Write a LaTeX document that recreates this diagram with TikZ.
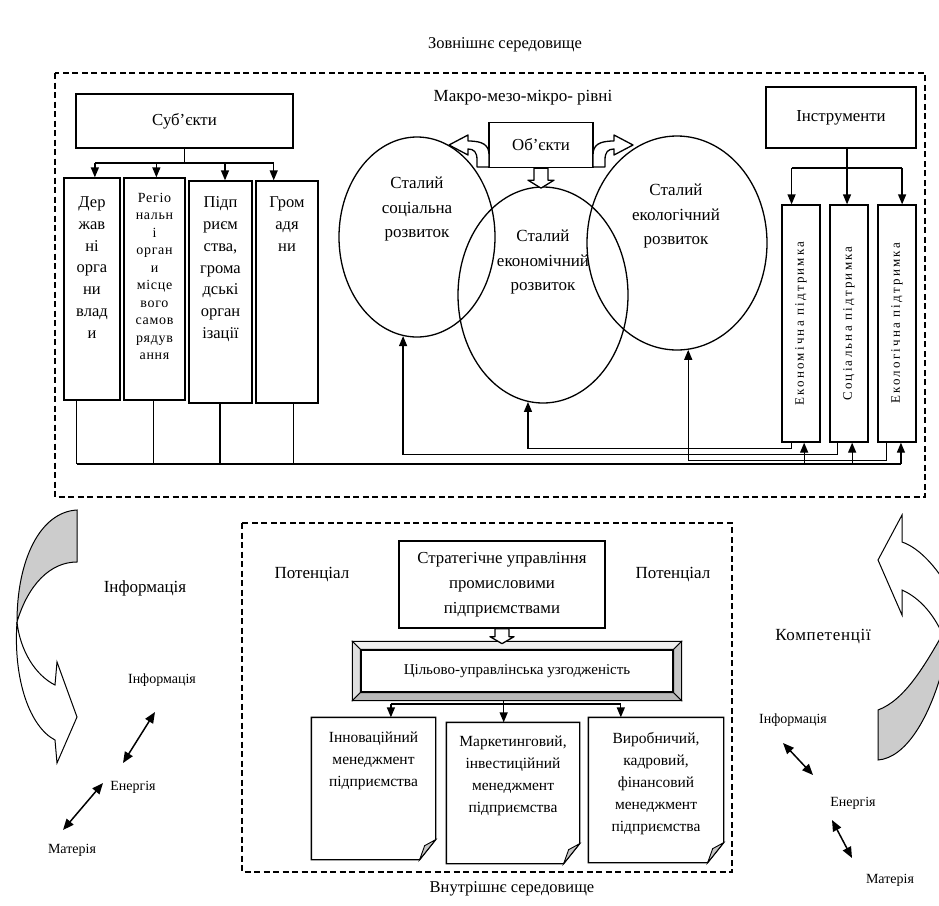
\documentclass[tikz,border=0pt]{standalone}
\usepackage{fontspec}
\setmainfont{Liberation Serif}
\usetikzlibrary{arrows.meta,shapes.geometric,calc,positioning}

\begin{document}
\begin{tikzpicture}[
    x=1pt, y=-1pt,
    line width=1.3pt,
    lbl/.style={font=\fontsize{17}{24.5}\selectfont, align=center, inner sep=0pt},
    slbl/.style={font=\fontsize{14}{16}\selectfont, inner sep=0pt},
    box/.style={rectangle, draw, fill=white, line width=1.3pt, font=\fontsize{16.8}{25}\selectfont, align=center, inner sep=0pt},
    colbox/.style={rectangle, draw, fill=white, line width=1.3pt, inner sep=0pt, font=\fontsize{16.5}{21.7}\selectfont},
    ibox/.style={rectangle, draw, fill=white, line width=1.3pt, minimum width=38, minimum height=237, inner sep=0pt, font=\fontsize{13}{14}\selectfont},
    circ/.style={ellipse, draw, line width=1.3pt},
    pagebox/.style={inner sep=0pt, font=\fontsize{15.5}{22}\selectfont},
    env/.style={draw, dash pattern=on 6pt off 3.5pt, line width=1.3pt},
    arr/.style={-{Triangle[length=10pt,width=8pt]}, line width=1.3pt},
    dbl/.style={{Triangle[length=11pt,width=9pt]}-{Triangle[length=11pt,width=9pt]}, line width=1.5pt},
    hollow/.style={draw, fill=white, line width=1.3pt, line join=round}
]
\useasboundingbox (0,0) rectangle (939,905);

% Outer environment
\node[lbl, font=\fontsize{16.5}{20}\selectfont] (outer) at (505,45) {Зовнішнє середовище};
\draw[env] (55,73) rectangle (925,497);

% Subjects
\node[box, minimum width=217, minimum height=54] (subj) at (184.5,121) {Суб’єкти};
\node[colbox] (d1) at (92,289) {\parbox[c][222pt][t]{56pt}{\centering\vspace*{19pt}Дер\\жав\\ні\\орга\\ни\\влад\\и}};
\node[colbox, font=\fontsize{14}{17.5}\selectfont\addfontfeatures{LetterSpace=5}] (d2) at (154.5,289) {\parbox[c][222pt][t]{61pt}{\centering\vspace*{15pt}Регіо\\нальн\\і\\орган\\и\\місце\\вого\\самов\\рядув\\ання}};
\node[colbox] (d3) at (220.5,292) {\parbox[c][222pt][t]{63pt}{\centering\vspace*{16pt}Підп\\риєм\\ства,\\грома\\дські\\орган\\ізації}};
\node[colbox] (d4) at (287,292) {\parbox[c][222pt][t]{62pt}{\centering\vspace*{16pt}Гром\\адя\\ни}};

\coordinate (sbus) at (184.5,163);
\coordinate (a1) at ($(d1.north west)!0.55!(d1.north east)$);
\coordinate (a2) at ($(d2.north west)!0.53!(d2.north east)$);
\coordinate (a3) at ($(d3.north west)!0.57!(d3.north east)$);
\coordinate (a4) at ($(d4.north west)!0.29!(d4.north east)$);
\draw (subj.south) -- (sbus);
\draw (a1 |- sbus) -- (a4 |- sbus);
\foreach \n in {1,...,4}
    \draw[arr] (a\n |- sbus) -- (a\n);

% Objects and circles
\node[lbl] (levels) at (523,98) {Макро-мезо-мікро- рівні};
\node[circ, minimum width=156, minimum height=200] (soc) at (417,237) {};
\node[circ, minimum width=170, minimum height=216] (eco) at (543,295) {};
\node[circ, minimum width=180, minimum height=214] (ecol) at (677,243) {};
\node[lbl] (soct) at (417,209) {Сталий\\соціальна\\розвиток};
\node[lbl] (ecot) at (543,262) {Сталий\\економічний\\розвиток};
\node[lbl] (ecolt) at (676,216) {Сталий\\екологічний\\розвиток};
\node[box, minimum width=104, minimum height=45] (obj) at (541,145) {Об’єкти};

\draw[hollow] ($(obj.south)+(-7,0)$) -- ++(0,12) -- ++(-6,0) -- ($(obj.south)+(0,20)$)
    -- ($(obj.south)+(13,12)$) -- ++(-6,0) -- ++(0,-12) -- cycle;
\draw[hollow] (489,167) -- (489,155) .. controls (489,145) and (483,141) .. (468,141)
    -- (468,135) -- (449,145) -- (468,155) -- (468,149) .. controls (474,149) and (477,152) .. (477,160)
    -- (477,167) -- cycle;
\draw[hollow] (593,167) -- (593,155) .. controls (593,145) and (599,141) .. (614,141)
    -- (614,135) -- (633,145) -- (614,155) -- (614,149) .. controls (608,149) and (605,152) .. (605,160)
    -- (605,167) -- cycle;

% Instruments
\node[box, minimum width=150, minimum height=61] (ins) at (841,117.5) {Інструменти};
\node[ibox] (i1) at (801,323.5) {\rotatebox{90}{\addfontfeatures{LetterSpace=17}Економічна підтримка}};
\node[ibox] (i2) at (849,323.5) {\rotatebox{90}{\addfontfeatures{LetterSpace=17}Соціальна підтримка}};
\node[ibox] (i3) at (897,323.5) {\rotatebox{90}{\addfontfeatures{LetterSpace=17}Екологічна підтримка}};

\coordinate (ibus) at (841,168);
\coordinate (t1) at ($(i1.north west)!0.26!(i1.north east)$);
\coordinate (t2) at ($(i2.north west)!0.45!(i2.north east)$);
\coordinate (t3) at ($(i3.north west)!0.63!(i3.north east)$);
\draw (t1 |- ibus) -- (t3 |- ibus);
\draw[arr] (ins.south -| t2) -- (t2);
\draw[arr] (t1 |- ibus) -- (t1);
\draw[arr] (t3 |- ibus) -- (t3);

% Feedback from instruments
\coordinate (o1) at ($(i1.south west)!0.26!(i1.south east)$);
\coordinate (o2) at ($(i2.south west)!0.21!(i2.south east)$);
\coordinate (o3) at ($(i3.south west)!0.24!(i3.south east)$);
\draw[arr] (o1) -- ++(0,6) -| (eco.262);
\draw[arr] (o2) -- ++(0,12) -| (soc.262);
\draw[arr] (o3) -- ++(0,18) -| (ecol.276);

% Subjects to instruments
\coordinate (sbot) at (500,464);
\coordinate (b1) at ($(d1.south west)!0.23!(d1.south east)$);
\coordinate (b2) at ($(d2.south west)!0.48!(d2.south east)$);
\coordinate (b3) at ($(d3.south west)!0.49!(d3.south east)$);
\coordinate (b4) at ($(d4.south west)!0.6!(d4.south east)$);
\coordinate (u1) at ($(i1.south west)!0.58!(i1.south east)$);
\coordinate (u2) at ($(i2.south west)!0.58!(i2.south east)$);
\coordinate (u3) at ($(i3.south west)!0.6!(i3.south east)$);
\foreach \n in {1,...,4}
    \draw (b\n) -- (b\n |- sbot);
\draw (b1 |- sbot) -- (u3 |- sbot);
\foreach \n in {1,2,3}
    \draw[arr] (u\n |- sbot) -- (u\n);

% Inner environment
\draw[env] (242,523) rectangle (732,872);
\node[lbl] (pot1) at (312,575) {Потенціал};
\node[lbl] (pot2) at (673,575) {Потенціал};
\node[box, minimum width=206, minimum height=87] (strat) at (502,584.5) {Стратегічне управління\\промисловими\\підприємствами};

\node[box, minimum width=312, minimum height=42, font=\fontsize{15}{20}\selectfont] (cil) at (517,671) {Цільово-управлінська узгодженість};
\filldraw[fill=gray!12, line width=0.9pt] ($(cil.north west)+(-8,-8)$) -- ($(cil.north east)+(8,-8)$) -- (cil.north east) -- (cil.north west) -- cycle;
\filldraw[fill=gray!25, line width=0.9pt] ($(cil.north west)+(-8,-8)$) -- (cil.north west) -- (cil.south west) -- ($(cil.south west)+(-8,8)$) -- cycle;
\filldraw[fill=gray!55, line width=0.9pt] ($(cil.south west)+(-8,8)$) -- (cil.south west) -- (cil.south east) -- ($(cil.south east)+(8,8)$) -- cycle;
\filldraw[fill=gray!45, line width=0.9pt] ($(cil.north east)+(8,-8)$) -- ($(cil.south east)+(8,8)$) -- (cil.south east) -- (cil.north east) -- cycle;

\draw[hollow] ($(strat.south)+(-7,0)$) -- ++(0,8) -- ++(-5,0) -- ($(strat.south)+(0,15)$)
    -- ($(strat.south)+(12,8)$) -- ++(-5,0) -- ++(0,-8) -- cycle;

% Management areas
\node[pagebox] (pg1) at (373.5,788.5) {\parbox[c][141pt][t]{123pt}{\centering\vspace*{14pt}Інноваційний\\менеджмент\\підприємства}};
\node[pagebox] (pg2) at (513,793) {\parbox[c][140pt][t]{132pt}{\centering\vspace*{13pt}Маркетинговий,\\інвестиційний\\менеджмент\\підприємства}};
\node[pagebox] (pg3) at (656,790) {\parbox[c][144pt][t]{134pt}{\centering\vspace*{14pt}Виробничий,\\кадровий,\\фінансовий\\менеджмент\\підприємства}};
\foreach \p in {pg1,pg2,pg3} {
    \draw (\p.north west) -- (\p.north east) -- ($(\p.south east)+(0,-20)$) -- ($(\p.south east)+(-16,0)$) -- (\p.south west) -- cycle;
    \filldraw[fill=gray!45, line width=0.9pt] ($(\p.south east)+(0,-20)$) -- ($(\p.south east)+(-16,0)$) -- ($(\p.south east)+(-11,-14)$) -- cycle;
}

\coordinate (cbus) at (517,704);
\coordinate (p1) at ($(pg1.north west)!0.64!(pg1.north east)$);
\coordinate (p2) at ($(pg2.north west)!0.43!(pg2.north east)$);
\coordinate (p3) at ($(pg3.north west)!0.24!(pg3.north east)$);
\draw (p1 |- cbus) -- (p3 |- cbus);
\draw[arr] ($(p2 |- cil.south)+(0,8)$) -- (p2);
\draw[arr] (p1 |- cbus) -- (p1);
\draw[arr] (p3 |- cbus) -- (p3);

\node[lbl, font=\fontsize{16.5}{20}\selectfont] (inner) at (512,889) {Внутрішнє середовище};

% Left exchange
\filldraw[fill=gray!40, line width=1pt] (77,510) .. controls (40,512) and (17,560) .. (17,622)
    .. controls (28,585) and (50,562) .. (77,562) -- cycle;
\filldraw[fill=white, line width=1pt] (17,622) .. controls (13,680) and (30,727) .. (55,740)
    -- (57,763) -- (77,717) -- (57,662) -- (55,685) .. controls (35,675) and (20,650) .. (17,622) -- cycle;
\node[lbl] (infl) at (145,588) {Інформація};
\node[slbl] (linf) at (162,680) {Інформація};
\node[slbl] (lenr) at (133,787) {Енергія};
\node[slbl] (lmat) at (72,850) {Матерія};
\coordinate (la1) at (123,763);
\coordinate (la2) at (155,712);
\coordinate (la3) at (63,830);
\coordinate (la4) at (103,783);
\draw[dbl] (la1) -- (la2);
\draw[dbl] (la3) -- (la4);

% Right exchange
\begin{scope}
\clip (0,0) rectangle (939,905);
\filldraw[fill=white, line width=1pt] (902,542) -- (902,515) -- (878,560) -- (902,615) -- (902,590)
    .. controls (920,598) and (935,615) .. (945,640) -- (960,640) -- (955,600)
    .. controls (940,570) and (920,548) .. (902,542) -- cycle;
\filldraw[fill=gray!40, line width=1pt] (878,710) -- (878,760) .. controls (905,758) and (930,720) .. (945,660)
    -- (945,630) .. controls (925,665) and (905,700) .. (878,710) -- cycle;
\end{scope}
\node[lbl, font=\fontsize{17}{20}\selectfont\addfontfeatures{LetterSpace=4}] (komp) at (823,637) {Компетенції};
\node[slbl] (rinf) at (793,720) {Інформація};
\node[slbl] (renr) at (853,803) {Енергія};
\node[slbl] (rmat) at (890,880) {Матерія};
\coordinate (ra1) at (783,743);
\coordinate (ra2) at (813,775);
\coordinate (ra3) at (832,820);
\coordinate (ra4) at (852,858);
\draw[dbl] (ra1) -- (ra2);
\draw[dbl] (ra3) -- (ra4);

\end{tikzpicture}
\end{document}
